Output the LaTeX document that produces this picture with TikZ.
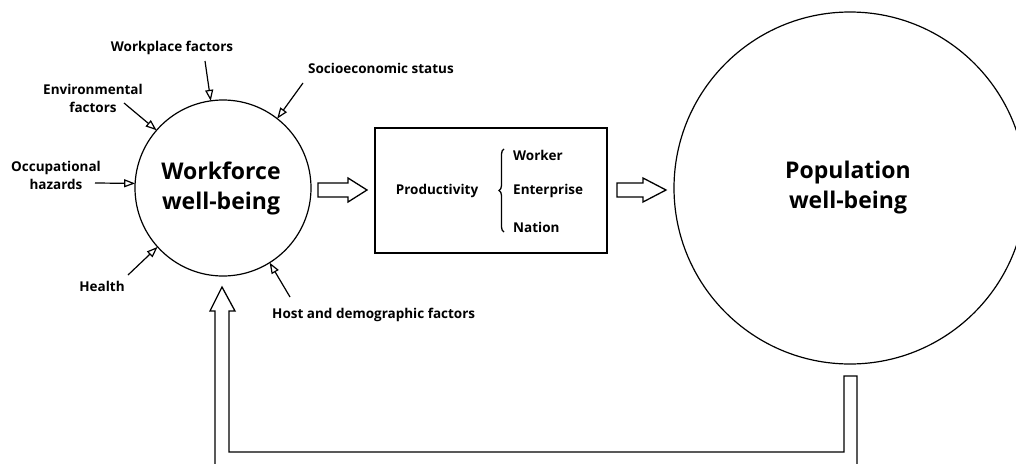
\documentclass[tikz,border=0pt]{standalone}
\usepackage{fontspec}
\setmainfont{Open Sans}
\usetikzlibrary{arrows.meta,decorations.pathreplacing}
\begin{document}
\begin{tikzpicture}[x=1pt,y=-1pt,
  lbl/.style={font=\fontsize{13.5}{18}\selectfont\bfseries, align=center, inner sep=0},
  big/.style={font=\fontsize{23}{30}\selectfont\bfseries, align=center, inner sep=0},
  bigcircle/.style={circle, draw, line width=1.2pt, inner sep=0, outer sep=0},
  feed/.style={-{Triangle[open, length=11pt, width=8pt]}, line width=1.2pt},
  blockarrow/.style={draw, line width=1.3pt, line join=miter},
  thin/.style={line width=1.3pt}]
\useasboundingbox (0,0) rectangle (1016,463);
% main nodes
\node[bigcircle, minimum size=176pt] (wf) at (223,188) {};
\node[big] (wftxt) at (221,188) {Workforce\\well-being};
\node[bigcircle, minimum size=352pt] (pop) at (850,188) {};
\node[big] (poptxt) at (848,188) {Population\\well-being};
\node[draw, thin, minimum width=232pt, minimum height=125pt, inner sep=0] (prod) at (491,190.5) {};
\node[lbl] (productivity) at (437,191) {Productivity};
\node[lbl, anchor=west] (worker) at (513,155) {Worker};
\node[lbl, anchor=west] (enterprise) at (513,191) {Enterprise};
\node[lbl, anchor=west] (nation) at (513,227) {Nation};
\draw[thin, decorate, decoration={brace, amplitude=5pt}] (504,232) -- (504,149);
% factor labels
\node[lbl] (workplace) at (172,48) {Workplace factors};
\node[lbl] (socio) at (381,68) {Socioeconomic status};
\node[lbl] (env) at (93,98) {Environmental\\factors};
\node[lbl] (occ) at (56,175) {Occupational\\hazards};
\node[lbl] (health) at (102,286) {Health};
\node[lbl, anchor=west] (host) at (272,315) {Host and demographic factors};
% free ends of factor arrows
\coordinate (cwork) at (205,61);
\coordinate (csocio) at (303,83);
\coordinate (cenv) at (124,103);
\coordinate (cocc) at (95,183);
\coordinate (chealth) at (128,275);
\coordinate (chost) at (290,297);
\draw[feed] (cwork) -- (wf.98);
\draw[feed] (csocio) -- (wf.52);
\draw[feed] (cenv) -- (wf.139);
\draw[feed] (cocc) -- (wf.177);
\draw[feed] (chealth) -- (wf.222);
\draw[feed] (chost) -- (wf.302);
% block arrows
\draw[blockarrow] (318,183) -- (348,183) -- (348,178) -- (367,190) -- (348,202) -- (348,197) -- (318,197) -- cycle;
\draw[blockarrow] (617,183) -- (643,183) -- (643,178) -- (666,190) -- (643,202) -- (643,197) -- (617,197) -- cycle;
% feedback arrow
\draw[blockarrow] (215,480) -- (215,311) -- (210,311) -- (222,287) -- (235,311) -- (229,311) -- (229,452) -- (844,452) -- (844,376) -- (857,376) -- (857,480);
\end{tikzpicture}
\end{document}
